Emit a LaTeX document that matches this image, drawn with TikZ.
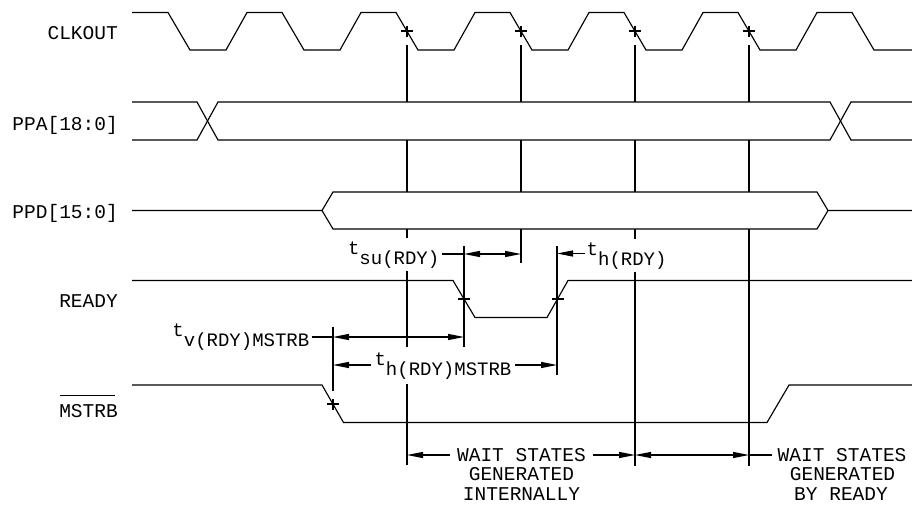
\documentclass[tikz,border=0pt]{standalone}
\usepackage{fontspec}
\setmainfont{Liberation Mono}
\usetikzlibrary{arrows.meta}
\begin{document}
\begin{tikzpicture}[x=1pt,y=-1pt,
  wave/.style={line width=1.15pt, line join=miter},
  guide/.style={line width=1.1pt},
  >={Triangle[length=16pt,width=6pt]},
  sig/.style={font=\fontsize{19.5}{20}\selectfont, inner sep=0pt, anchor=base east},
  ann/.style={font=\fontsize{19}{20}\selectfont, fill=white, inner xsep=2pt, inner ysep=3pt},
  waittxt/.style={font=\fontsize{19.5}{20}\selectfont, inner sep=0pt, anchor=base},
  crossmark/.pic={\draw[line width=1.1pt] (-6,0) -- (6,0) (0,-5.5) -- (0,5.5);}]
\useasboundingbox (0,0) rectangle (912,504);

% ---------- signal names
\node[sig] (nclk) at (118,39) {CLKOUT};
\node[sig] (nppa) at (118,130.5) {PPA[18:0]};
\node[sig] (nppd) at (118,218) {PPD[15:0]};
\node[sig] (nrdy) at (118,307.5) {READY};
\node[sig] (nms)  at (118,417) {MSTRB};
\draw[guide] ([xshift=1pt,yshift=8pt]nms.north west) -- ([xshift=-3pt,yshift=8pt]nms.north east);

% ---------- CLKOUT
\draw[wave] (132,12.5) -- (168,12.5) -- (190,50) -- (226,50) -- (247,12.5)
  -- (282,12.5) -- (304,50) -- (340,50) -- (361,12.5)
  -- (396,12.5) -- (418,50) -- (454,50) -- (475,12.5)
  -- (510,12.5) -- (532,50) -- (568,50) -- (589,12.5)
  -- (624,12.5) -- (646,50) -- (682,50) -- (703,12.5)
  -- (738,12.5) -- (760,50) -- (796,50) -- (817,12.5)
  -- (852,12.5) -- (874,50) -- (912,50);
\coordinate (c1) at (407,31);
\coordinate (c2) at (521,31);
\coordinate (c3) at (635,31);
\coordinate (c4) at (749,31);
\foreach \c in {c1,c2,c3,c4} \pic at (\c) {crossmark};

% ---------- PPA bus
\draw[wave] (132,102) -- (197,102) -- (218,140) -- (830,140) -- (851,102) -- (912,102);
\draw[wave] (132,140) -- (197,140) -- (218,102) -- (830,102) -- (851,140) -- (912,140);

% ---------- PPD bus
\draw[wave] (132,210.5) -- (322,210.5) -- (333,192) -- (817,192) -- (828,210.5) -- (912,210.5);
\draw[wave] (322,210.5) -- (333,229) -- (817,229) -- (828,210.5);

% ---------- READY
\draw[wave] (132,280.5) -- (453,280.5) -- (475,317.5) -- (547,317.5) -- (568,280.5) -- (912,280.5);
\coordinate (r1) at (464,299);
\coordinate (r2) at (557.5,299);
\pic at (r1) {crossmark};
\pic at (r2) {crossmark};

% ---------- MSTRB
\draw[wave] (132,385) -- (322,385) -- (343.5,422.5) -- (767,422.5) -- (789,385) -- (912,385);
\coordinate (m1) at (333,404);
\pic at (m1) {crossmark};

% ---------- clock reference lines (broken inside buses)
\foreach \x/\e in {407/465, 521/263, 635/466, 749/466} {
  \draw[guide] (\x,45) -- (\x,102);
  \draw[guide] (\x,140) -- (\x,192);
  \draw[guide] (\x,229) -- (\x,\e);
}
% extension lines
\draw[guide] (464,246) -- (464,347);
\draw[guide] (557,246) -- (557,375);
\draw[guide] (333,327) -- (333,391);

% ---------- dimensions
\coordinate (su1) at (464,254);
\coordinate (su2) at (521,254);
\draw[guide,<->] (su1) -- (su2);
\coordinate (th1) at (557,253.5);
\coordinate (tv1) at (333,337);
\coordinate (tv2) at (464,337);
\draw[guide,<->] (tv1) -- (tv2);
\coordinate (hm1) at (333,365);
\coordinate (hm2) at (557,365);
\draw[guide,<->] (hm1) -- (hm2);
\coordinate (w1) at (407,455);
\coordinate (w2) at (635,455);
\coordinate (w3) at (749,455);
\draw[guide,<->] (w1) -- (w2);
\draw[guide,<->] (w2) -- (w3);

% ---------- annotation texts
\node[ann, anchor=base east] (tsu) at (441.5,264) {\raisebox{10pt}{t}su(RDY)};
\draw[guide] (tsu.east |- su1) -- (su1);
\node[ann, anchor=base west] (th) at (584.5,265) {\raisebox{10pt}{t}h(RDY)};
\draw[guide,->] (th.west |- th1) -- (th1);
\node[ann, anchor=base east] (tv) at (311.5,346.5) {\raisebox{10pt}{t}v(RDY)MSTRB};
\draw[guide] (tv.east |- tv1) -- (tv1);
\node[ann, anchor=base, inner xsep=4pt, inner ysep=5pt] (thm) at (443,375) {\raisebox{10pt}{t}h(RDY)MSTRB};

\node[waittxt, fill=white, inner xsep=7pt, inner ysep=2pt] (ws1) at (521.5,461) {WAIT STATES};
\node[waittxt] (gen1) at (521.5,480.5) {GENERATED};
\node[waittxt] (int1) at (521.5,500.5) {INTERNALLY};
\node[waittxt, anchor=base west, inner xsep=6pt] (ws2) at (771.5,461) {WAIT STATES};
\draw[guide] (w3) -- (ws2.west |- w3);
\node[waittxt] (gen2) at (842.5,480.5) {GENERATED};
\node[waittxt] (by2) at (841,500.5) {BY READY};
\end{tikzpicture}
\end{document}
